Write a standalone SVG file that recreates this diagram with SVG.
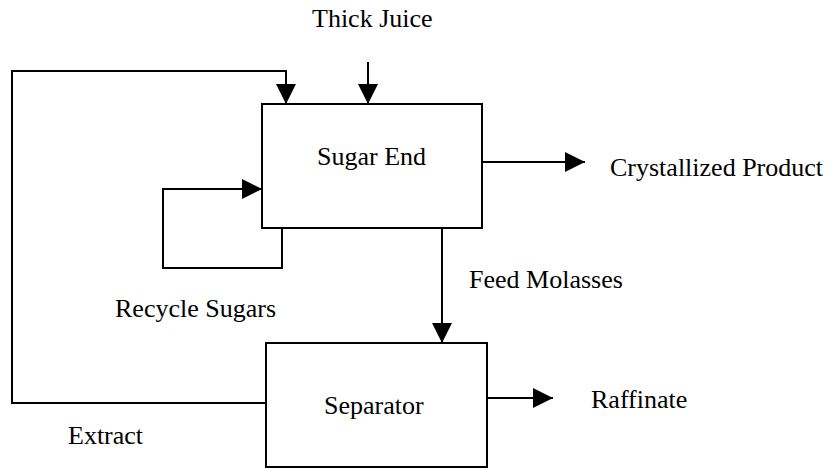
<svg xmlns="http://www.w3.org/2000/svg" width="832" height="468" viewBox="0 0 832 468">
<style>
.box{fill:#fff;stroke:#000;stroke-width:2}
.ln{fill:none;stroke:#000;stroke-width:2}
text{font-family:"Liberation Serif","Times New Roman",serif;font-size:26px;fill:#000}
</style>
<defs>
<marker id="ah" markerUnits="userSpaceOnUse" markerWidth="20" markerHeight="20" refX="20" refY="10" orient="auto">
<path d="M0,0 L20,10 L0,20 z" fill="#000"/>
</marker>
</defs>
<rect width="832" height="468" fill="#fff"/>
<g id="connectors">
<path class="ln" d="M368,62 L368,104" marker-end="url(#ah)"/>
<path class="ln" d="M266,403 L12,403 L12,71 L286,71 L286,104" marker-end="url(#ah)"/>
<path class="ln" d="M282,228 L282,268 L163,268 L163,189 L262,189" marker-end="url(#ah)"/>
<path class="ln" d="M482,162 L585,162" marker-end="url(#ah)"/>
<path class="ln" d="M442,228 L442,343" marker-end="url(#ah)"/>
<path class="ln" d="M487,398 L553,398" marker-end="url(#ah)"/>
</g>
<g id="sugar-end">
<rect class="box" x="262" y="104" width="220" height="124"/>
<text x="317" y="165">Sugar End</text>
</g>
<g id="separator">
<rect class="box" x="266" y="343" width="221" height="124"/>
<text x="324" y="414">Separator</text>
</g>
<g id="labels">
<text x="312" y="27">Thick Juice</text>
<text x="610" y="176">Crystallized Product</text>
<text x="115" y="317">Recycle Sugars</text>
<text x="469" y="288">Feed Molasses</text>
<text x="591" y="408">Raffinate</text>
<text x="68" y="444">Extract</text>
</g>
</svg>
